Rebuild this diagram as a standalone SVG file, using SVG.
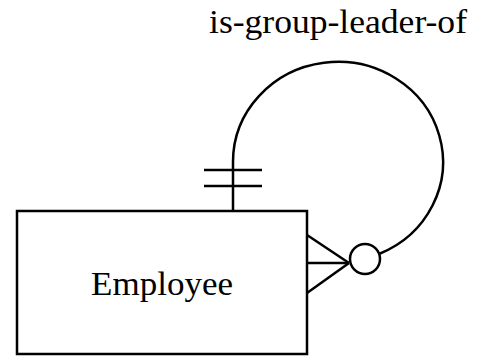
<svg xmlns="http://www.w3.org/2000/svg" width="477" height="356" viewBox="0 0 477 356">
<style>
.ln{fill:none;stroke:#000;stroke-width:2.5}
.t{font-family:"Liberation Serif","Times New Roman",serif;fill:#000}
</style>
<rect width="477" height="356" fill="#fff"/>
<g id="connectors">
<path class="ln" d="M233,211 V162 A105,100 0 1 1 379,254"/>
<line class="ln" x1="204" y1="170" x2="262" y2="170"/>
<line class="ln" x1="204" y1="186" x2="262" y2="186"/>
<line class="ln" x1="307" y1="235" x2="349" y2="263"/>
<line class="ln" x1="307" y1="263" x2="349" y2="263"/>
<line class="ln" x1="307" y1="293" x2="349" y2="263"/>
<circle class="ln" cx="365" cy="259" r="15"/>
<text class="t" x="209" y="33" font-size="33" textLength="258" lengthAdjust="spacingAndGlyphs">is-group-leader-of</text>
</g>
<g id="employee">
<rect class="ln" x="17" y="211" width="290" height="143"/>
<text class="t" x="91" y="295" font-size="34" textLength="142" lengthAdjust="spacingAndGlyphs">Employee</text>
</g>
</svg>
